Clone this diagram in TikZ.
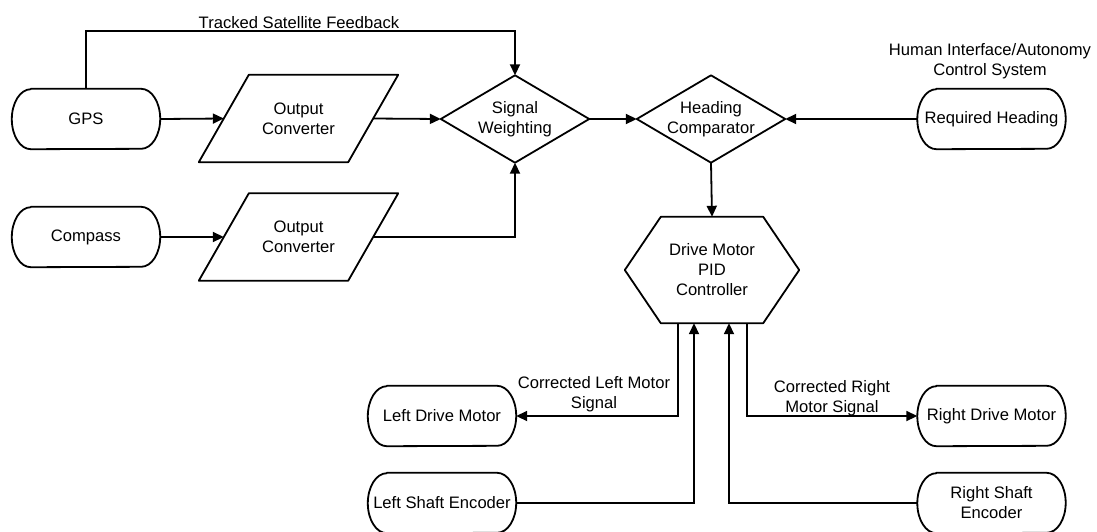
\documentclass[tikz,border=0pt]{standalone}
\usepackage{fontspec}
\setmainfont{Liberation Sans}
\usetikzlibrary{arrows.meta,calc}
\begin{document}
\begin{tikzpicture}[x=1pt,y=-1pt,
  font=\fontsize{16.6}{20}\selectfont,
  box/.style={rectangle,inner sep=0pt,align=center},
  term/.style={box,minimum width=148pt,minimum height=60pt},
  para/.style={box,minimum width=149pt,minimum height=87pt},
  decide/.style={box,minimum width=148pt,minimum height=87pt},
  hexa/.style={box,minimum width=174pt,minimum height=106pt},
  outline/.style={line width=1.8pt,line join=round},
  link/.style={line width=1.8pt,-{Triangle[length=11pt,width=10pt]}},
  lbl/.style={align=center,inner sep=0pt}
]
\fill[white] (0,0) rectangle (1097,531);
\useasboundingbox (0,0) rectangle (1097,531);

% sources and sinks
\node[term] (gps) at (86,119) {GPS};
\node[term] (cmp) at (86,237) {Compass};
\node[term] (rh)  at (991.5,119) {Required Heading};
\node[term] (ldm) at (442,416) {Left Drive Motor};
\node[term] (lse) at (442,503) {Left Shaft Encoder};
\node[term] (rdm) at (991.5,416) {Right Drive Motor};
\node[term] (rse) at (991.5,503) {Right Shaft\\Encoder};

% processing blocks
\node[para] (conv1) at (298.5,118.5) {Output\\Converter};
\node[para] (conv2) at (298.5,237) {Output\\Converter};
\node[decide] (sw) at (515,119) {Signal\\Weighting};
\node[decide] (hc) at (711,119) {Heading\\Comparator};
\node[hexa] (hex) at (712,270) {Drive Motor\\PID\\Controller};

% free labels
\node[lbl] (fbl) at (299,23) {Tracked Satellite Feedback};
\node[lbl] (hil) at (990,61.5) {Human Interface/Autonomy\\Control System};
\node[lbl] (cll) at (594,394.5) {Corrected Left Motor\\Signal};
\node[lbl] (crl) at (832,398) {Corrected Right\\Motor Signal};

% outlines
\foreach \n in {gps,cmp,rh,ldm,lse,rdm,rse}{
  \draw[outline] ($(\n.north west)+(19,0)$) -- ($(\n.north east)+(-19,0)$)
    arc[start angle=90,end angle=-90,x radius=19pt,y radius=30pt]
    -- ($(\n.south west)+(19,0)$)
    arc[start angle=270,end angle=90,x radius=19pt,y radius=30pt] -- cycle;
}
\foreach \n in {conv1,conv2}{
  \draw[outline] ($(\n.north west)+(25,0)$) -- ($(\n.north east)+(25,0)$)
    -- ($(\n.south east)+(-25,0)$) -- ($(\n.south west)+(-25,0)$) -- cycle;
}
\foreach \n in {sw,hc}{
  \draw[outline] (\n.north) -- (\n.east) -- (\n.south) -- (\n.west) -- cycle;
}
\draw[outline] (hex.west) -- ($(hex.north west)+(36,0)$) -- ($(hex.north east)+(-36,0)$)
  -- (hex.east) -- ($(hex.south east)+(-36,0)$) -- ($(hex.south west)+(36,0)$) -- cycle;

% connector end points
\coordinate (fb) at (86,31);
\coordinate (hb1) at ($(hex.south)+(-34,0)$);
\coordinate (hb2) at ($(hex.south)+(-18,0)$);
\coordinate (hb3) at ($(hex.south)+(17,0)$);
\coordinate (hb4) at ($(hex.south)+(35,0)$);

% connectors
\draw[link] (gps.north) -- (fb) -| (sw.north);
\draw[link] (gps.east) -- (conv1.west);
\draw[link] (cmp.east) -- (conv2.west);
\draw[link] (conv1.east) -- (sw.west);
\draw[link] (conv2.east) -| (sw.south);
\draw[link] (sw.east) -- (hc.west);
\draw[link] (rh.west) -- (hc.east);
\draw[link] (hc.south) -- (hex.north);
\draw[link] (hb1) |- (ldm.east);
\draw[link] (lse.east) -| (hb2);
\draw[link] (rse.west) -| (hb3);
\draw[link] (hb4) |- (rdm.west);
\end{tikzpicture}
\end{document}
